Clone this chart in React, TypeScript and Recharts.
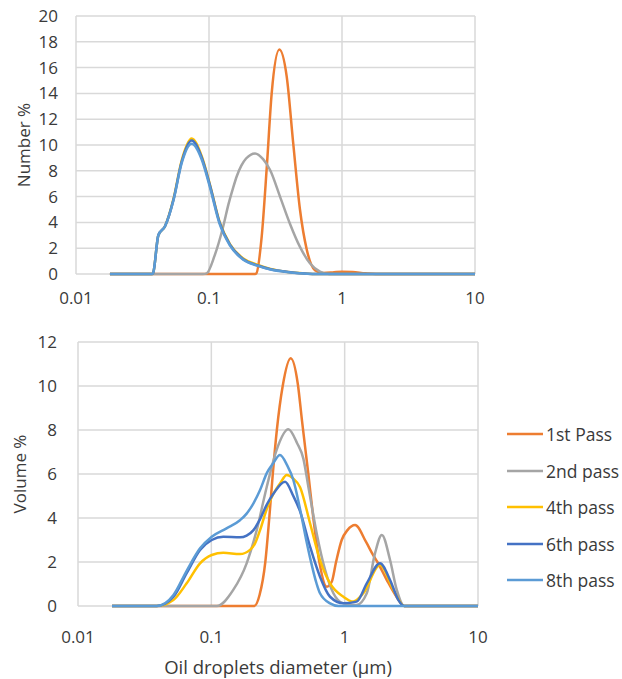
import React from 'react';
import { LineChart, Line, XAxis, YAxis, CartesianGrid, Legend } from 'recharts';

// ---------- Number % (top chart) ----------
const numPass1Sizes = [0.018, 0.2, 0.222, 0.227, 0.249, 0.272, 0.296, 0.338, 0.384, 0.43, 0.483, 0.543, 0.626, 0.72, 0.85, 1.0, 1.2, 1.5, 1.8, 10];
const numPass1Values = [0, 0, 0, 0.05, 2.9, 8.3, 14.0, 17.4, 15.3, 10.1, 5.0, 1.9, 0.3, 0.08, 0.12, 0.18, 0.15, 0.05, 0, 0];

const numPass2Sizes = [0.018, 0.09, 0.0961, 0.11, 0.128, 0.14, 0.152, 0.162, 0.175, 0.19, 0.222, 0.255, 0.288, 0.342, 0.406, 0.483, 0.574, 0.683, 0.8, 10];
const numPass2Values = [0, 0, 0.05, 1.4, 3.7, 5.4, 6.7, 7.6, 8.4, 8.95, 9.35, 8.9, 8.06, 6.0, 3.9, 2.1, 0.83, 0.18, 0, 0];

const numFineSizes = [0.018, 0.0375, 0.0381, 0.0416, 0.0467, 0.054, 0.0623, 0.0741, 0.088, 0.1018, 0.12, 0.144, 0.181, 0.23, 0.29, 0.37, 0.48, 0.6, 10];
const numPass4Values = [0, 0, 0.1, 3.0, 3.7, 5.8, 8.8, 10.5, 9.15, 6.9, 4.05, 2.3, 1.2, 0.72, 0.4, 0.2, 0.07, 0, 0];
const numPass6Values = [0, 0, 0.1, 3.0, 3.7, 5.75, 8.7, 10.35, 9.05, 6.85, 4.0, 2.25, 1.15, 0.68, 0.37, 0.19, 0.06, 0, 0];
const numPass8Values = [0, 0, 0.1, 3.0, 3.7, 5.7, 8.6, 10.1, 8.9, 6.7, 3.9, 2.2, 1.1, 0.65, 0.35, 0.18, 0.05, 0, 0];

// ---------- Volume % (bottom chart) ----------
const volPass1Sizes = [0.018, 0.21, 0.23, 0.254, 0.272, 0.289, 0.31, 0.343, 0.394, 0.445, 0.479, 0.534, 0.582, 0.646, 0.734, 0.8, 0.862, 0.95, 1.05, 1.197, 1.45, 1.64, 1.76, 2.07, 2.46, 2.8, 10];
const volPass1Values = [0, 0, 0.5, 2, 4, 6, 8, 10, 11.26, 10.1, 8.4, 6, 4, 2, 0.88, 1.1, 2.0, 3.0, 3.45, 3.68, 2.9, 2.3, 2.0, 1.18, 0.4, 0, 0];

const volPass2Sizes = [0.018, 0.11, 0.146, 0.184, 0.219, 0.26, 0.309, 0.378, 0.44, 0.49, 0.535, 0.617, 0.713, 0.823, 0.978, 1.23, 1.465, 1.69, 1.9, 2.19, 2.46, 2.8, 10];
const volPass2Values = [0, 0, 0.73, 1.94, 3.45, 5.4, 7.1, 8.03, 7.4, 6.7, 5.4, 3.3, 1.64, 0.58, 0.12, 0.05, 0.58, 2.4, 3.23, 2.09, 0.73, 0, 0];

const volPass4Sizes = [0.018, 0.039, 0.0519, 0.0653, 0.0823, 0.1007, 0.123, 0.164, 0.195, 0.213, 0.232, 0.26, 0.292, 0.33, 0.368, 0.41, 0.463, 0.55, 0.653, 0.777, 0.978, 1.16, 1.38, 1.84, 2.32, 2.8, 10];
const volPass4Values = [0, 0, 0.27, 1.03, 1.94, 2.32, 2.42, 2.36, 2.55, 2.85, 3.45, 4.4, 5.1, 5.6, 5.95, 5.8, 5.4, 3.76, 2.09, 1.03, 0.42, 0.2, 0.58, 1.86, 0.73, 0, 0];

const volPass6Sizes = [0.018, 0.039, 0.052, 0.0653, 0.0823, 0.1007, 0.123, 0.164, 0.184, 0.207, 0.232, 0.26, 0.292, 0.357, 0.412, 0.463, 0.55, 0.653, 0.777, 0.978, 1.23, 1.465, 1.84, 2.19, 2.53, 2.8, 10];
const volPass6Values = [0, 0, 0.42, 1.49, 2.55, 3.0, 3.15, 3.12, 3.2, 3.45, 3.95, 4.6, 5.1, 5.65, 5.0, 4.3, 2.7, 1.33, 0.42, 0.12, 0.2, 1.03, 1.94, 1.18, 0.27, 0, 0];

const volPass8Sizes = [0.018, 0.039, 0.052, 0.0653, 0.0823, 0.1007, 0.13, 0.164, 0.184, 0.207, 0.232, 0.26, 0.292, 0.327, 0.37, 0.412, 0.463, 0.519, 0.55, 0.617, 0.653, 0.777, 0.9, 10];
const volPass8Values = [0, 0, 0.5, 1.6, 2.62, 3.15, 3.53, 3.9, 4.2, 4.67, 5.27, 6.03, 6.5, 6.86, 6.4, 5.73, 4.4, 2.9, 2.2, 1.0, 0.58, 0.12, 0, 0];

const seriesNames = ['1st Pass', '2nd pass', '4th pass', '6th pass', '8th pass'];
const seriesColors = ['#ED7D31', '#A5A5A5', '#FFC000', '#4472C4', '#5B9BD5'];

const xTicks = [0.01, 0.1, 1, 10];
const numberTicks = [0, 2, 4, 6, 8, 10, 12, 14, 16, 18, 20];
const volumeTicks = [0, 2, 4, 6, 8, 10, 12];

const FONT = "'Open Sans', sans-serif";
const TEXT = '#3a3a3a';
const GRID = '#d9d9d9';

const zip = (xs: number[], ys: number[]) => xs.map((x, i) => ({ x, y: ys[i] }));

const numberSeries = [
  zip(numPass1Sizes, numPass1Values),
  zip(numPass2Sizes, numPass2Values),
  zip(numFineSizes, numPass4Values),
  zip(numFineSizes, numPass6Values),
  zip(numFineSizes, numPass8Values),
];
const volumeSeries = [
  zip(volPass1Sizes, volPass1Values),
  zip(volPass2Sizes, volPass2Values),
  zip(volPass4Sizes, volPass4Values),
  zip(volPass6Sizes, volPass6Values),
  zip(volPass8Sizes, volPass8Values),
];

const tickStyle = { fontFamily: FONT, fontSize: 17, fill: TEXT };

const LegendContent = (props: any) => {
  const payload = props.payload || [];
  return (
    <div style={{ fontFamily: FONT, fontSize: 17.5, color: TEXT }}>
      {payload.map((p: any) => (
        <div key={p.value} style={{ display: 'flex', alignItems: 'center', height: 36.5 }}>
          <svg width={36} height={4} style={{ display: 'block' }}>
            <line x1={0} y1={2} x2={36} y2={2} stroke={p.color} strokeWidth={2.5} />
          </svg>
          <span style={{ marginLeft: 3, whiteSpace: 'nowrap' }}>{p.value}</span>
        </div>
      ))}
    </div>
  );
};

const yTitle = (text: string, cx: number) => (props: any) => {
  const vb = props.viewBox || { x: 0, y: 0, width: 0, height: 0 };
  const cy = vb.y + vb.height / 2;
  return (
    <text x={cx} y={cy} transform={`rotate(-90 ${cx} ${cy})`} textAnchor="middle" dominantBaseline="central"
      style={{ fontFamily: FONT, fontSize: 17, fill: TEXT }}>{text}</text>
  );
};

const xTitle = (text: string, baseline: number) => (props: any) => {
  const vb = props.viewBox || { x: 0, y: 0, width: 0, height: 0 };
  const cx = vb.x + vb.width / 2;
  return (
    <text x={cx} y={baseline} textAnchor="middle"
      style={{ fontFamily: FONT, fontSize: 18.5, fill: TEXT }}>{text}</text>
  );
};

export default function App() {
  return (
    <div style={{ position: 'absolute', left: 0, top: 0, width: 622, height: 679, background: '#fff' }}>
      <div style={{ position: 'absolute', left: 0, top: 0 }}>
        <LineChart width={622} height={330} margin={{ top: 16, right: 147, bottom: 20, left: 0 }}>
          <CartesianGrid stroke={GRID} strokeWidth={1.5} />
          <XAxis type="number" dataKey="x" scale="log" domain={[0.01, 10]} ticks={xTicks} allowDataOverflow
            axisLine={false} tickLine={false} tickSize={0} tickMargin={18} height={36} tick={tickStyle} interval={0} />
          <YAxis type="number" domain={[0, 20]} ticks={numberTicks} axisLine={false} tickLine={false}
            tickSize={0} tickMargin={18} width={76} tick={tickStyle} interval={0}
            label={yTitle('Number %', 23)} />
          {numberSeries.map((d, i) => (
            <Line key={seriesNames[i]} data={d} dataKey="y" name={seriesNames[i]} type="monotone"
              stroke={seriesColors[i]} strokeWidth={2.5} dot={false} activeDot={false} isAnimationActive={false} />
          ))}
        </LineChart>
      </div>
      <div style={{ position: 'absolute', left: 0, top: 330 }}>
        <LineChart width={622} height={349} margin={{ top: 12, right: 144, bottom: 10, left: 0 }}>
          <CartesianGrid stroke={GRID} strokeWidth={1.5} />
          <XAxis type="number" dataKey="x" scale="log" domain={[0.01, 10]} ticks={xTicks} allowDataOverflow
            axisLine={false} tickLine={false} tickSize={0} tickMargin={25} height={63} tick={tickStyle} interval={0}
            label={xTitle('Oil droplets diameter (µm)', 344)} />
          <YAxis type="number" domain={[0, 12]} ticks={volumeTicks} axisLine={false} tickLine={false}
            tickSize={0} tickMargin={21} width={78} tick={tickStyle} interval={0}
            label={yTitle('Volume %', 19)} />
          {volumeSeries.map((d, i) => (
            <Line key={seriesNames[i]} data={d} dataKey="y" name={seriesNames[i]} type="monotone"
              stroke={seriesColors[i]} strokeWidth={2.5} dot={false} activeDot={false} isAnimationActive={false} />
          ))}
          <Legend layout="vertical" align="center" verticalAlign="middle" content={<LegendContent />}
            wrapperStyle={{ left: 507, top: 86, width: 115, height: 190 }} />
        </LineChart>
      </div>
    </div>
  );
}
